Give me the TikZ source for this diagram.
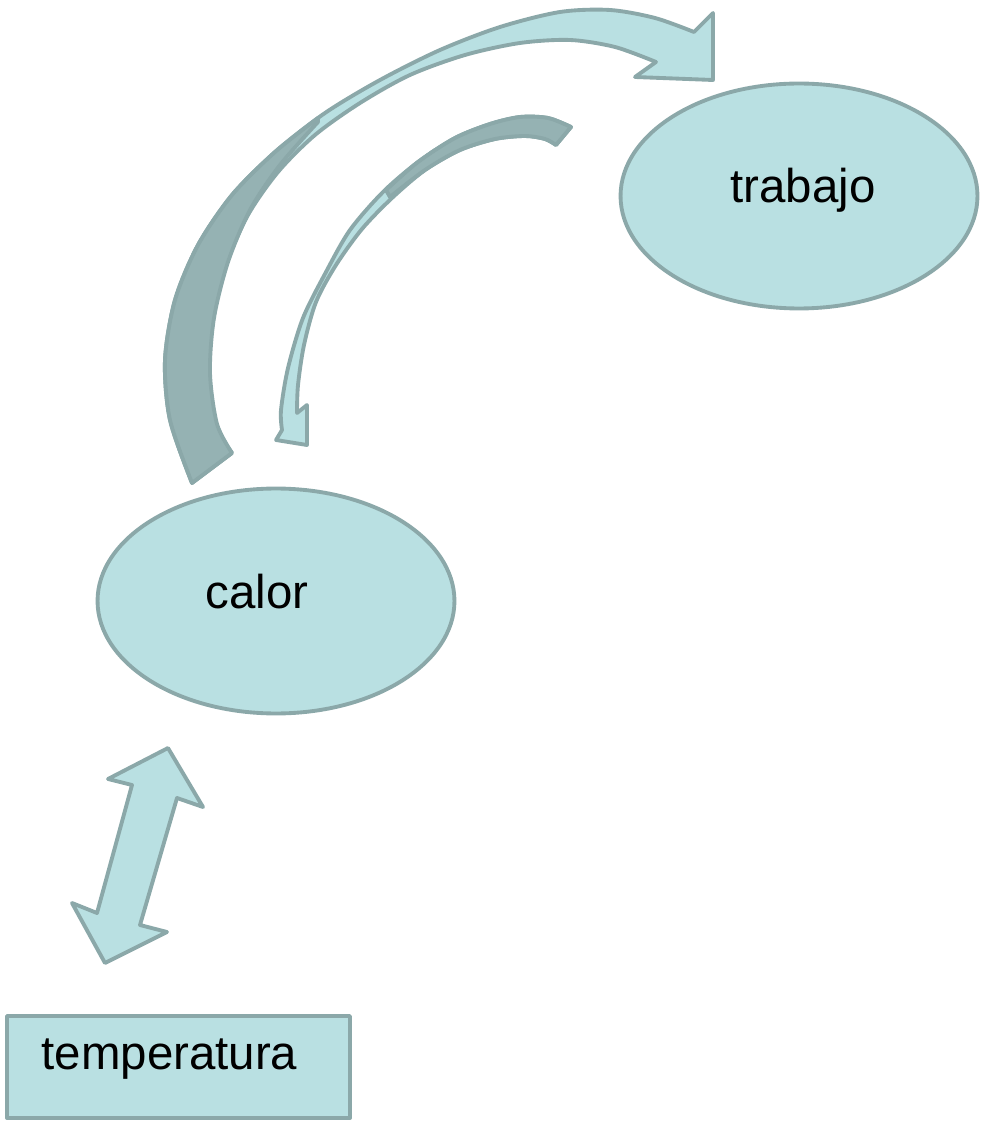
\documentclass[tikz,border=0pt]{standalone}
\usepackage{fontspec}
\setmainfont{Liberation Sans}
\usetikzlibrary{shapes.geometric}
\definecolor{boxfill}{RGB}{185,224,226}
\definecolor{boxline}{RGB}{139,168,169}
\definecolor{boxshade}{RGB}{149,178,179}

\begin{document}
\begin{tikzpicture}[x=0.02cm,y=-0.02cm,line width=2.2pt,line join=round,
  font=\fontsize{27}{32}\selectfont,
  blob/.style={draw=boxline,fill=boxfill,shape=ellipse,minimum width=7.14cm,minimum height=4.5cm,inner sep=0pt},
  block/.style={draw=boxline,fill=boxfill,minimum width=6.86cm,minimum height=2.04cm,inner sep=0pt},
  arr/.style={draw=boxline,fill=boxfill},
  arrdark/.style={draw=boxline,fill=boxshade}]
\useasboundingbox (0,0) rectangle (980,1124);

\node[blob,label={[shift={(4,-6)}]center:trabajo}] (trabajo) at (799,196) {};
\node[blob,label={[shift={(-19,-9)}]center:calor}] (calor) at (276,601) {};
\node[block,label={[shift={(-9,-8)}]center:temperatura}] (temp) at (178.5,1067) {};

% calor -> trabajo
\draw[arr] plot[smooth] coordinates {(192,483) (170,420) (165,360) (175,300) (198,245) (232,195) (275,152) (325,113) (380,80) (440,50) (500,27) (560,12) (610,10) (655,18) (694,32)}
  -- (713,13) -- (713,80) -- (635,77) -- (656,62)
  -- plot[smooth] coordinates {(656,62) (615,47) (570,40) (520,43) (465,55) (410,75) (360,103) (315,135) (278,172) (248,215) (226,265) (212,320) (208,375) (216,425) (232,453)} -- cycle;
\draw[arrdark] plot[smooth] coordinates {(192,483) (170,420) (165,360) (175,300) (198,245) (232,195) (275,152) (318,118)}
  -- plot[smooth] coordinates {(318,122) (280,165) (250,210) (228,262) (214,318) (210,373) (217,424) (232,453)} -- cycle;

% trabajo -> calor
\draw[arr] plot[smooth] coordinates {(571,127) (548,118) (520,117) (490,124) (455,138) (418,162) (383,192) (350,230) (326,272) (303,318) (288,368) (281,410) (282,430)}
  -- (276,440) -- (307,445) -- (307,405) -- (297,413)
  -- plot[smooth] coordinates {(297,413) (298,385) (304,345) (316,302) (336,265) (362,229) (392,198) (425,170) (460,150) (495,139) (525,136) (545,139) (556,145)} -- cycle;
\draw[arrdark] plot[smooth] coordinates {(571,127) (548,118) (520,117) (490,124) (455,138) (418,162) (386,190)}
  -- plot[smooth] coordinates {(390,197) (425,170) (460,150) (495,139) (525,136) (545,139) (556,145)} -- cycle;

% calor <-> temperatura
\draw[arr] (168,748) -- (203,807) -- (177,798) -- (140,925) -- (167,932) -- (105,963)
  -- (72,903) -- (97,913) -- (132,785) -- (108,779) -- cycle;
\end{tikzpicture}
\end{document}
